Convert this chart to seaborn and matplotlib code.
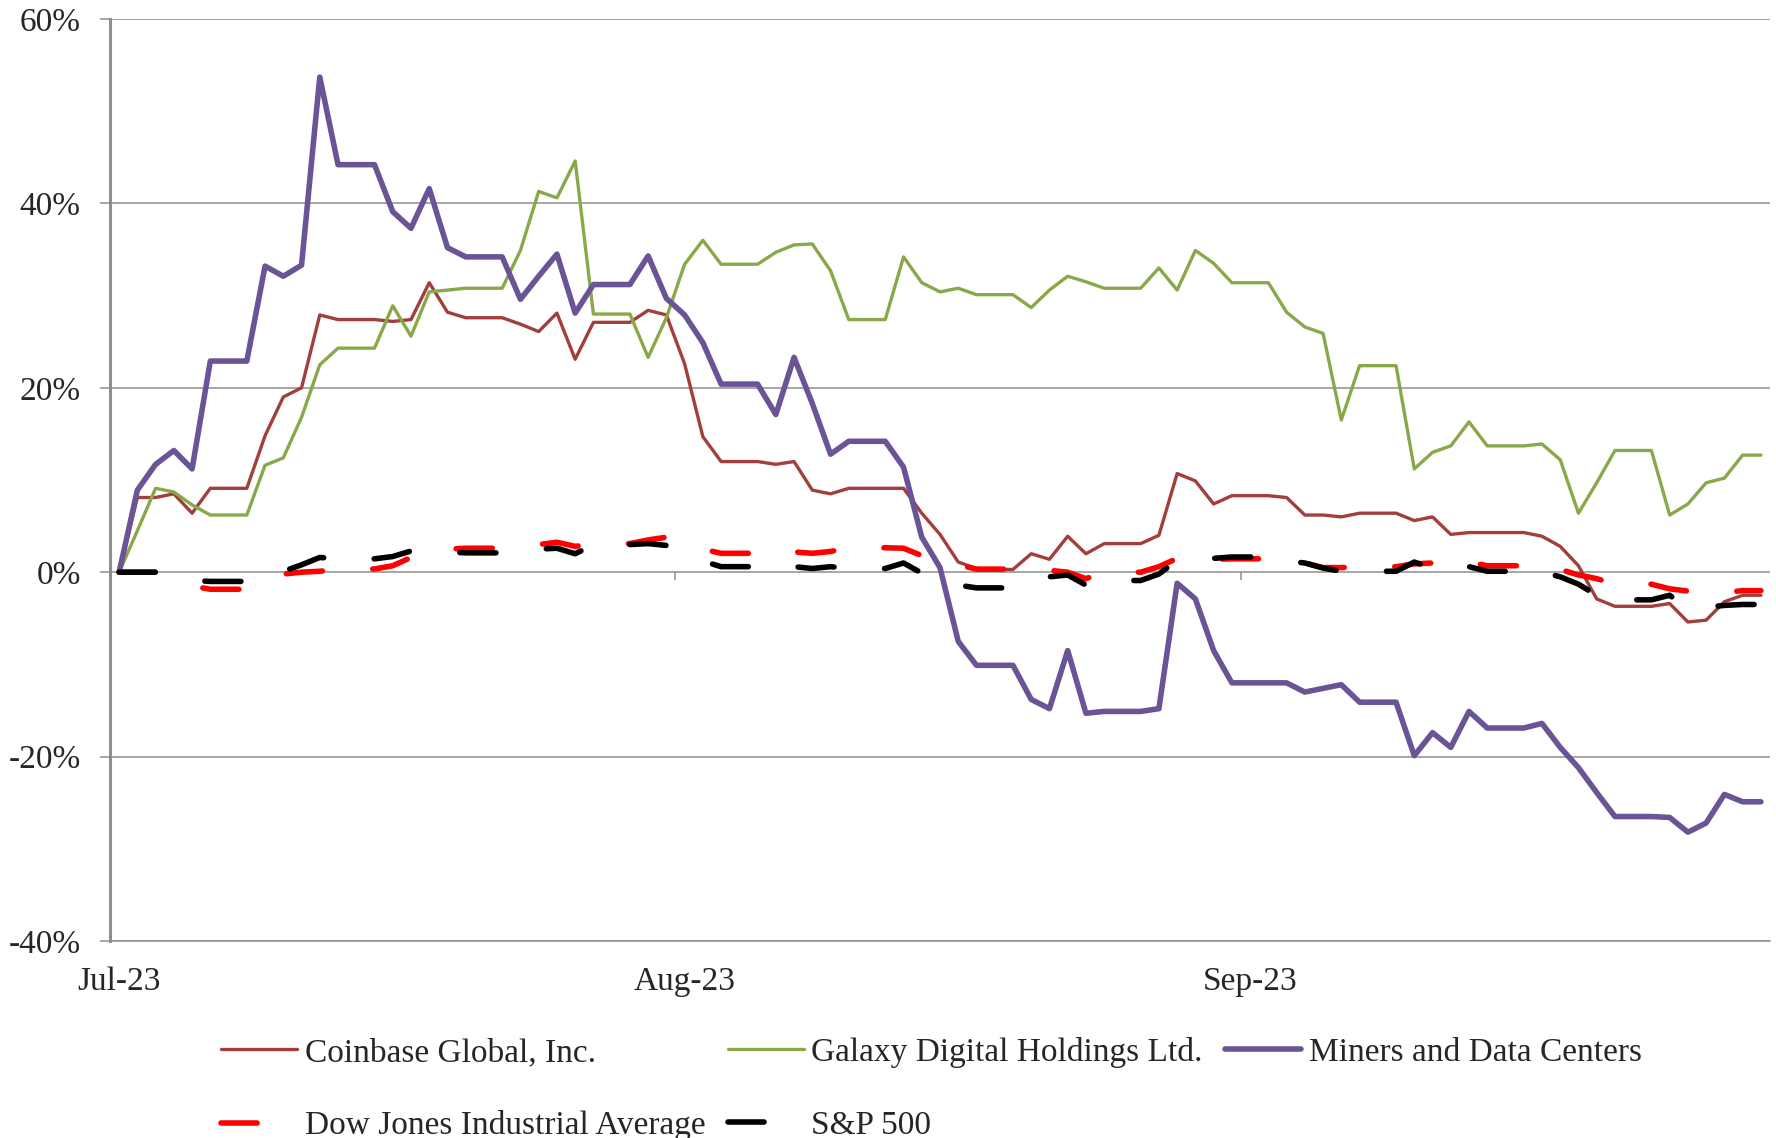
import pandas as pd
import seaborn as sns
import matplotlib
matplotlib.use("Agg")
import matplotlib.pyplot as plt

# daily calendar days, Jul 1 .. Sep 29 2023 (91 points), values in % return
days = pd.date_range("2023-07-01", "2023-09-29", freq="D")

coinbase = [0, 8.1, 8.1, 8.5, 6.4, 9.1, 9.1, 9.1, 14.8, 19.0,
            20.0, 27.9, 27.4, 27.4, 27.4, 27.2, 27.4, 31.4, 28.2, 27.6,
            27.6, 27.6, 26.9, 26.1, 28.1, 23.1, 27.1, 27.1, 27.1, 28.4,
            27.9, 22.6, 14.7, 12.0, 12.0, 12.0, 11.7, 12.0, 8.9, 8.5,
            9.1, 9.1, 9.1, 9.1, 6.4, 4.1, 1.1, 0.4, 0.3, 0.3,
            2.0, 1.4, 3.9, 2.0, 3.1, 3.1, 3.1, 4.0, 10.7, 9.9,
            7.4, 8.3, 8.3, 8.3, 8.1, 6.2, 6.2, 6.0, 6.4, 6.4,
            6.4, 5.6, 6.0, 4.1, 4.3, 4.3, 4.3, 4.3, 3.9, 2.8,
            0.7, -2.9, -3.7, -3.7, -3.7, -3.4, -5.4, -5.2, -3.2, -2.5,
            -2.5]
galaxy = [0, 4.5, 9.1, 8.7, 7.3, 6.2, 6.2, 6.2, 11.6, 12.4,
          16.8, 22.5, 24.3, 24.3, 24.3, 28.9, 25.6, 30.4, 30.6, 30.8,
          30.8, 30.8, 34.9, 41.3, 40.6, 44.6, 28.0, 28.0, 28.0, 23.3,
          27.6, 33.4, 36.0, 33.4, 33.4, 33.4, 34.7, 35.5, 35.6, 32.7,
          27.4, 27.4, 27.4, 34.2, 31.4, 30.4, 30.8, 30.1, 30.1, 30.1,
          28.7, 30.6, 32.1, 31.5, 30.8, 30.8, 30.8, 33.0, 30.6, 34.9,
          33.5, 31.4, 31.4, 31.4, 28.2, 26.6, 25.9, 16.5, 22.4, 22.4,
          22.4, 11.2, 13.0, 13.7, 16.3, 13.7, 13.7, 13.7, 13.9, 12.2,
          6.4, 9.7, 13.2, 13.2, 13.2, 6.2, 7.4, 9.7, 10.2, 12.7,
          12.7]
miners = [0, 8.9, 11.7, 13.2, 11.2, 22.9, 22.9, 22.9, 33.2, 32.1,
          33.3, 53.7, 44.2, 44.2, 44.2, 39.1, 37.3, 41.6, 35.2, 34.2,
          34.2, 34.2, 29.6, 32.1, 34.5, 28.1, 31.2, 31.2, 31.2, 34.3,
          29.7, 27.9, 24.9, 20.4, 20.4, 20.4, 17.1, 23.3, 18.3, 12.8,
          14.2, 14.2, 14.2, 11.4, 3.8, 0.5, -7.5, -10.1, -10.1, -10.1,
          -13.8, -14.8, -8.5, -15.3, -15.1, -15.1, -15.1, -14.8, -1.2, -2.9,
          -8.5, -12.0, -12.0, -12.0, -12.0, -13.0, -12.6, -12.2, -14.1, -14.1,
          -14.1, -19.9, -17.4, -19.0, -15.1, -16.9, -16.9, -16.9, -16.4, -19.0,
          -21.2, -23.9, -26.5, -26.5, -26.5, -26.6, -28.2, -27.2, -24.1, -24.9,
          -24.9]
dow = [0, 0, 0, -1.0, -1.5, -1.85, -1.85, -1.85, -1.0, -0.2,
       0.0, 0.1, 0.35, 0.35, 0.35, 0.7, 1.6, 2.3, 2.5, 2.6,
       2.6, 2.6, 2.8, 3.0, 3.25, 2.8, 3.1, 3.1, 3.1, 3.5,
       3.8, 3.2, 2.5, 2.05, 2.05, 2.05, 2.6, 2.2, 2.05, 2.25,
       2.65, 2.65, 2.65, 2.6, 1.8, 1.25, 0.8, 0.33, 0.33, 0.33,
       0.4, 0.2, 0.0, -0.7, 0.0, 0.0, 0.0, 0.6, 1.5, 1.5,
       1.4, 1.45, 1.45, 1.45, 1.4, 1.0, 0.5, 0.5, 0.6, 0.6,
       0.6, 0.9, 1.0, 0.7, 1.1, 0.7, 0.7, 0.7, 0.8, 0.3,
       -0.3, -0.7, -1.3, -1.3, -1.3, -1.8, -2.05, -2.2, -2.2, -2.0,
       -2.0]
sp500 = [0, 0, 0, -0.5, -0.9, -1.0, -1.0, -1.0, -0.5, 0.1,
         0.8, 1.6, 1.45, 1.45, 1.45, 1.7, 2.3, 2.3, 2.2, 2.1,
         2.1, 2.1, 2.3, 2.5, 2.6, 2.0, 3.0, 3.0, 3.0, 3.1,
         2.9, 2.3, 1.2, 0.6, 0.6, 0.6, 1.0, 0.6, 0.4, 0.6,
         0.4, 0.4, 0.4, 1.0, -0.1, -0.7, -1.4, -1.7, -1.7, -1.7,
         -1.3, -0.5, -0.3, -1.4, -0.9, -0.9, -0.9, -0.2, 1.3, 1.4,
         1.5, 1.65, 1.65, 1.65, 1.2, 1.0, 0.45, 0.1, 0.1, 0.1,
         0.1, 1.1, 0.45, 0.3, 0.6, 0.1, 0.1, 0.1, 0.0, -0.5,
         -1.3, -2.5, -3.0, -3.0, -3.0, -2.5, -4.0, -3.8, -3.6, -3.5,
         -3.5]

names = ["Coinbase Global, Inc.", "Galaxy Digital Holdings Ltd.",
         "Miners and Data Centers", "Dow Jones Industrial Average", "S&P 500"]
colors = ["#A23F3C", "#89A84A", "#6A5496", "#FF0000", "#000000"]
widths = [2.4, 2.4, 4.0, 4.0, 4.0]
dash = (0, (6.5, 9.1))
styles = ["-", "-", "-", dash, dash]

df = pd.DataFrame({"date": days, names[0]: coinbase, names[1]: galaxy,
                   names[2]: miners, names[3]: dow, names[4]: sp500})
long = df.melt(id_vars="date", var_name="series", value_name="ret")

sns.set_theme(style="white")
plt.rcParams["font.family"] = ["Liberation Serif", "DejaVu Serif"]
FS = 24
grid_c = "#8E8E8E"

fig = plt.figure(figsize=(17.76, 11.38), dpi=100)
ax = fig.add_axes([110 / 1776, 1 - 941 / 1138, 1660 / 1776, 922 / 1138])

for name, c, lw, ls in zip(names, colors, widths, styles):
    sns.lineplot(data=long[long["series"] == name], x="date", y="ret", ax=ax,
                 color=c, linewidth=lw, linestyle=ls, label=name,
                 dash_capstyle="round", solid_joinstyle="round",
                 solid_capstyle="round")

half = pd.Timedelta(hours=12)
ax.set_xlim(days[0] - half, days[-1] + half)
ax.set_ylim(-40, 60)
ax.set_yticks(range(-40, 61, 20))
ax.set_yticklabels([f"{v}%" for v in range(-40, 61, 20)], fontsize=FS)
ax.yaxis.grid(True, color=grid_c, linewidth=1.1)
ax.set_axisbelow(True)

month_starts = [days[0], days[31], days[62]]
ax.set_xticks(month_starts)
ax.set_xticklabels([d.strftime("%b-%y") for d in month_starts], fontsize=FS)
ax.tick_params(axis="x", length=0, pad=18.5)
ax.tick_params(axis="y", length=7, width=1.1, color=grid_c, direction="out",
               pad=14, left=True)

# small tick marks on the 0% line at month boundaries
ax.vlines([d - half for d in month_starts], -0.9, 0, color=grid_c, linewidth=1.1)

ax.set_xlabel("")
ax.set_ylabel("")
for s in ["top", "right"]:
    ax.spines[s].set_visible(False)
ax.spines["left"].set_color(grid_c)
ax.spines["left"].set_linewidth(2.2)
ax.spines["bottom"].set_color(grid_c)
ax.spines["bottom"].set_linewidth(1.1)

handles, labels = ax.get_legend_handles_labels()
ax.get_legend().remove()
order = [0, 3, 1, 4, 2]
fig.legend([handles[i] for i in order], [labels[i] for i in order],
           ncol=3, loc="upper left", bbox_to_anchor=(221 / 1776, 1 - 1037 / 1138),
           frameon=False, fontsize=FS, handlelength=2.28, handletextpad=0.23,
           columnspacing=0.67, labelspacing=1.27, borderpad=0, borderaxespad=0)

fig.savefig("out.png", dpi=100)
